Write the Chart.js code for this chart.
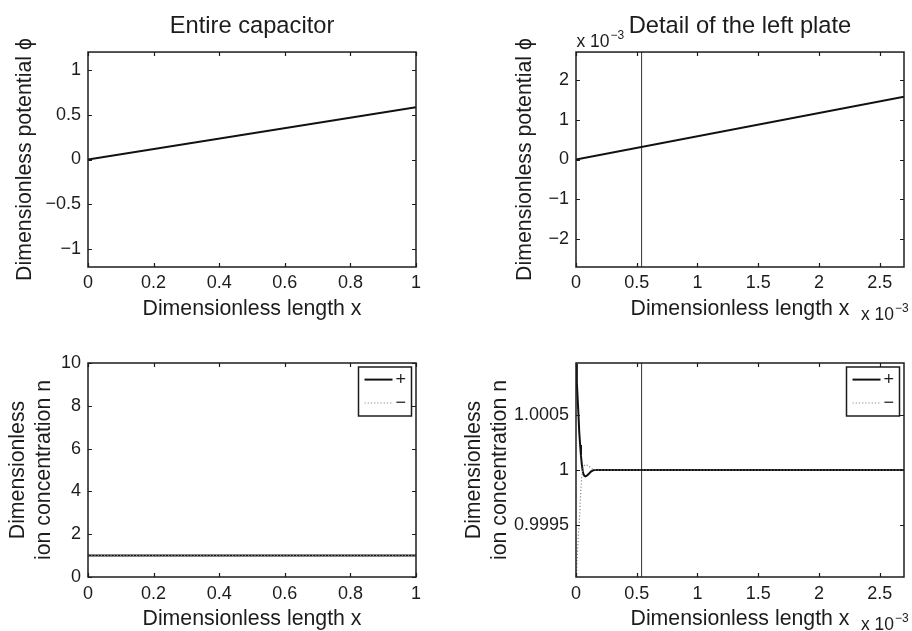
<!DOCTYPE html>
<html>
<head>
<meta charset="utf-8">
<script src="https://cdn.jsdelivr.net/npm/chart.js@4.4.1/dist/chart.umd.min.js"></script>
<style>
  html, body { margin: 0; padding: 0; background: #fff; overflow: hidden; width: 912px; height: 631px; }
  .panel { position: absolute; }
</style>
</head>
<body>
<div class="panel" style="left:0;top:0;width:456px;height:322px"><canvas id="potChart"></canvas></div>
<div class="panel" style="left:456px;top:0;width:456px;height:322px"><canvas id="potDetailChart"></canvas></div>
<div class="panel" style="left:0;top:320px;width:456px;height:315px"><canvas id="concChart"></canvas></div>
<div class="panel" style="left:456px;top:320px;width:456px;height:315px"><canvas id="concDetailChart"></canvas></div>
<script>
// Entire capacitor - potential
const potX = [0, 1];
const potY = [0, 0.585];
const potXTicks = [0, 0.2, 0.4, 0.6, 0.8, 1];
const potYTicks = [-1, -0.5, 0, 0.5, 1];
const potYRange = [-1.2, 1.2];

// Detail of the left plate (x and potential both in units of 1e-3)
const detailX = [0, 2.7];
const detailPotY = [0, 1.58];
const detailXTicks = [0, 0.5, 1, 1.5, 2, 2.5];
const detailPotYTicks = [-2, -1, 0, 1, 2];
const detailPotYRange = [-2.7, 2.7];
const plateEdgeX = [0.54, 0.54];

// Ion concentration - whole capacitor
const concX = [0, 1];
const concPlus = [1, 1];
const concMinus = [1, 1];
const concYTicks = [0, 2, 4, 6, 8, 10];
const concYRange = [0, 10];

// Ion concentration near the left plate (x in units of 1e-3)
const plusX = [0, 0.007, 0.014, 0.021, 0.027, 0.034, 0.041, 0.048, 0.055, 0.062, 0.069, 0.077, 0.086, 0.096, 0.11, 0.123, 0.137, 0.151, 0.18, 0.25, 2.7];
const plusY = [1.00097, 1.0008, 1.000645, 1.00049, 1.000342, 1.00023, 1.00013, 1.00005, 0.999994, 0.99996, 0.999948, 0.999942, 0.999946, 0.999955, 0.99997, 0.999985, 0.999995, 1.0, 1.0, 1.0, 1.0];
const minusX = [0, 0.0055, 0.008, 0.014, 0.019, 0.027, 0.033, 0.036, 0.041, 0.047, 0.06, 0.074, 0.101, 0.132, 0.165, 2.7];
const minusY = [0.9989, 0.99907, 0.99916, 0.99928, 0.9994, 0.99952, 0.99965, 0.99974, 0.99983, 0.99993, 1.00003, 1.00005, 1.00004, 1.00001, 1.0, 1.0];
const detailConcYTicks = [0.9995, 1, 1.0005];
const detailConcYRange = [0.99902, 1.00098];

const ink = '#1c1c1c';
const family = '"Liberation Sans", Arial, sans-serif';
const tickFont = { family, size: 18 };
const xLabelFont = { family, size: 21.3, lineHeight: 1.2 };
const yLabelFont = { family, size: 21.3, lineHeight: 1.21 };

const pts = (xs, ys) => xs.map((x, i) => ({ x, y: ys[i] }));
const fmt = v => String(v).replace('-', '\u2212');

function solid(label, data) {
  return { label, data, borderColor: '#111', borderWidth: 2, pointRadius: 0, order: 1 };
}
function dotted(label, data) {
  return { label, data, borderColor: '#8a8a8a', borderWidth: 1.2, borderDash: [1.2, 2], pointRadius: 0, order: 0 };
}
function plateLine(data) {
  return { data, borderColor: '#333', borderWidth: 1, pointRadius: 0, order: 2 };
}

// x 10^-3 multiplier text
function drawPower(ctx, x, y) {
  ctx.fillStyle = ink;
  ctx.textAlign = 'left';
  ctx.textBaseline = 'alphabetic';
  ctx.font = '17.5px ' + family;
  ctx.fillText('x 10', x, y);
  const w = ctx.measureText('x 10').width;
  ctx.font = '12px ' + family;
  ctx.fillText('\u22123', x + w + 1, y - 8);
}

// MATLAB style box: frame, inward ticks, legend and exponents
const framePlugin = {
  id: 'frame',
  afterDatasetsDraw(chart, args, opts) {
    const { ctx, chartArea: a, scales } = chart;
    ctx.save();
    ctx.strokeStyle = ink;
    ctx.lineWidth = 1.2;
    ctx.beginPath();
    scales.x.ticks.forEach(t => {
      const px = Math.round(scales.x.getPixelForValue(t.value)) + 0.5;
      ctx.moveTo(px, a.bottom); ctx.lineTo(px, a.bottom - 4);
      ctx.moveTo(px, a.top); ctx.lineTo(px, a.top + 4);
    });
    scales.y.ticks.forEach(t => {
      const py = Math.round(scales.y.getPixelForValue(t.value)) + 0.5;
      ctx.moveTo(a.left, py); ctx.lineTo(a.left + 4, py);
      ctx.moveTo(a.right, py); ctx.lineTo(a.right - 4, py);
    });
    ctx.stroke();
    ctx.lineWidth = 1.5;
    ctx.strokeRect(a.left, a.top, a.right - a.left, a.bottom - a.top);

    if (opts.legend) {
      const items = chart.data.datasets.filter(d => d.label);
      const bw = 53, bh = 49;
      const bx = a.right - 4.5 - bw, by = a.top + 4;
      ctx.fillStyle = '#fff';
      ctx.fillRect(bx, by, bw, bh);
      ctx.lineWidth = 1.5;
      ctx.strokeStyle = ink;
      ctx.strokeRect(bx, by, bw, bh);
      items.forEach((d, i) => {
        const ly = by + 12.6 + i * 23.4;
        ctx.strokeStyle = d.borderColor;
        ctx.lineWidth = d.borderWidth;
        ctx.setLineDash(d.borderDash || []);
        ctx.beginPath();
        ctx.moveTo(bx + 6, ly); ctx.lineTo(bx + 34, ly);
        ctx.stroke();
        ctx.setLineDash([]);
        ctx.fillStyle = ink;
        ctx.font = '18px ' + family;
        ctx.textAlign = 'left';
        ctx.textBaseline = 'middle';
        ctx.fillText(d.label, bx + 37, ly);
      });
    }
    if (opts.yPower) drawPower(ctx, a.left + 0.5, a.top - 5.3);
    if (opts.xPower) drawPower(ctx, a.right - 43, a.bottom + 53);
    ctx.restore();
  }
};

function makeChart(id, cfg) {
  return new Chart(document.getElementById(id), {
    type: 'line',
    data: { datasets: cfg.datasets },
    plugins: [framePlugin],
    options: {
      responsive: true,
      maintainAspectRatio: false,
      animation: false,
      devicePixelRatio: 1,
      layout: { padding: cfg.padding },
      plugins: {
        legend: { display: false },
        tooltip: { enabled: false },
        title: cfg.title ? {
          display: true, text: cfg.title, fullSize: false, color: ink,
          font: { family, size: 23.7, weight: 'normal', lineHeight: 1.2 },
          padding: { top: 11.8, bottom: 11.8 }
        } : { display: false },
        frame: cfg.frame
      },
      scales: {
        x: {
          type: 'linear',
          min: cfg.xRange[0], max: cfg.xRange[1],
          grid: { display: false, drawTicks: false }, border: { display: false },
          afterBuildTicks: s => { s.ticks = cfg.xTicks.map(v => ({ value: v })); },
          afterFit: s => { s.height = cfg.xHeight; },
          ticks: { font: tickFont, color: ink, padding: cfg.xTickPad, maxRotation: 0, callback: fmt },
          title: { display: true, text: 'Dimensionless length x', color: ink, font: xLabelFont, padding: { top: 0, bottom: cfg.xTitlePad } }
        },
        y: {
          type: 'linear',
          min: cfg.yRange[0], max: cfg.yRange[1],
          grid: { display: false, drawTicks: false }, border: { display: false },
          afterBuildTicks: s => { s.ticks = cfg.yTicks.map(v => ({ value: v })); },
          afterFit: s => { s.width = cfg.yWidth; },
          ticks: { font: tickFont, color: ink, padding: 7, callback: fmt },
          title: { display: true, text: cfg.yTitle, color: ink, font: yLabelFont, padding: { top: 4, bottom: 0 } }
        }
      }
    }
  });
}

// Entire capacitor - potential
makeChart('potChart', {
  title: 'Entire capacitor',
  datasets: [solid('', pts(potX, potY))],
  padding: { left: 8, right: 40, top: 0, bottom: 0 },
  xRange: [0, 1], xTicks: potXTicks, xHeight: 55, xTickPad: 5, xTitlePad: 0,
  yRange: potYRange, yTicks: potYTicks, yWidth: 80,
  yTitle: 'Dimensionless potential \u03D5',
  frame: {}
});

// Detail of the left plate - potential
makeChart('potDetailChart', {
  title: 'Detail of the left plate',
  datasets: [solid('', pts(detailX, detailPotY)), plateLine(pts(plateEdgeX, detailPotYRange))],
  padding: { left: 52, right: 8, top: 0, bottom: 0 },
  xRange: [0, 2.7], xTicks: detailXTicks, xHeight: 55, xTickPad: 5, xTitlePad: 0,
  yRange: detailPotYRange, yTicks: detailPotYTicks, yWidth: 68,
  yTitle: 'Dimensionless potential \u03D5',
  frame: { xPower: true, yPower: true }
});

// Entire capacitor - ion concentrations
makeChart('concChart', {
  datasets: [solid('+', pts(concX, concPlus)), dotted('\u2212', pts(concX, concMinus))],
  padding: { left: 1, right: 40, top: 43, bottom: 0 },
  xRange: [0, 1], xTicks: potXTicks, xHeight: 58, xTickPad: 6, xTitlePad: 3,
  yRange: concYRange, yTicks: concYTicks, yWidth: 87,
  yTitle: ['Dimensionless', 'ion concentration n'],
  frame: { legend: true }
});

// Detail of the left plate - ion concentrations
makeChart('concDetailChart', {
  datasets: [solid('+', pts(plusX, plusY)), dotted('\u2212', pts(minusX, minusY)), plateLine(pts(plateEdgeX, detailConcYRange))],
  padding: { left: 1, right: 8, top: 43, bottom: 0 },
  xRange: [0, 2.7], xTicks: detailXTicks, xHeight: 58, xTickPad: 6, xTitlePad: 3,
  yRange: detailConcYRange, yTicks: detailConcYTicks, yWidth: 119,
  yTitle: ['Dimensionless', 'ion concentration n'],
  frame: { legend: true, xPower: true }
});
</script>
</body>
</html>
